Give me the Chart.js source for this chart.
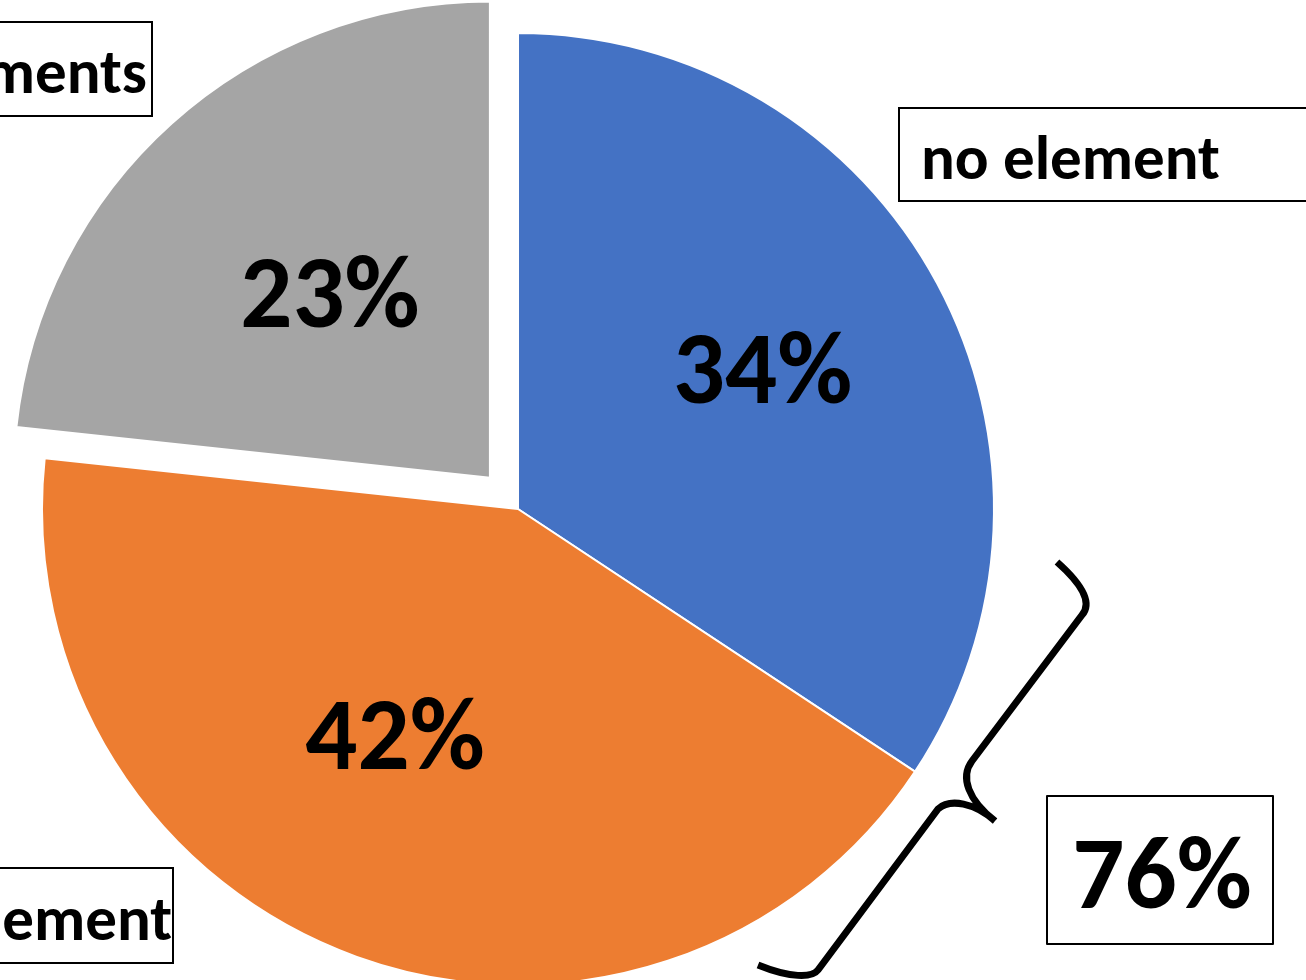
<!DOCTYPE html>
<html>
<head>
<meta charset="utf-8">
<title>Element share</title>
<script src="https://cdn.jsdelivr.net/npm/chart.js@4.4.1/dist/chart.umd.min.js"></script>
<style>
    html, body { margin: 0; padding: 0; background: #fff; overflow: hidden; }
    #wrap { position: relative; width: 1306px; height: 980px; }
</style>
</head>
<body>
<div id="wrap"><canvas id="pie"></canvas></div>
<script>
// data
const categories = ['no element', 'one element', 'two elements'];
const shares = [34.3, 42.4, 23.3];
const grouped = [0, 1]; // slices summed under the brace

// styles
const sliceColors = ['#4472C4', '#ED7D31', '#A5A5A5'];
const sliceOffsets = [0, 0, 42]; // px the slice is pulled out
const FONT = 'Carlito, Lato, "Open Sans", sans-serif';

// % label spot per slice: [fraction of radius, angle shift in deg]
const pctPlace = [[0.594, -1.9], [0.536, 9.0], [0.516, 1.3]];

// category boxes: [x, y, w, h, textX, baseline, align]
const callouts = [
    [899, 108, 440, 93, 921, 179, 'left'],
    [-300, 868, 473, 95, 172, 940, 'right'],
    [-300, 22, 452, 94, 147, 93, 'right']
];

const labelsPlugin = {
    id: 'sliceLabels',
    afterDatasetsDraw(chart) {
        const ctx = chart.ctx;
        const meta = chart.getDatasetMeta(0);
        ctx.save();
        ctx.fillStyle = '#000';
        ctx.textBaseline = 'alphabetic';

        // percentages inside the slices
        ctx.font = `bold 103px ${FONT}`;
        ctx.textAlign = 'center';
        let cx = 0, cy = 0;
        meta.data.forEach((arc, i) => {
            const p = arc.getProps(['x', 'y', 'startAngle', 'endAngle', 'outerRadius'], true);
            cx = p.x; cy = p.y;
            const mid = (p.startAngle + p.endAngle) / 2;
            const off = (arc.options.offset || 0) / 4;
            const a = mid + pctPlace[i][1] * Math.PI / 180;
            const r = p.outerRadius * pctPlace[i][0];
            const x = p.x + Math.cos(mid) * off + Math.cos(a) * r;
            const y = p.y + Math.sin(mid) * off + Math.sin(a) * r;
            ctx.fillText(Math.round(shares[i]) + '%', x, y + 36);
        });

        // category boxes
        ctx.font = `bold 63px ${FONT}`;
        ctx.lineWidth = 2;
        ctx.strokeStyle = '#000';
        callouts.forEach((c, i) => {
            ctx.strokeRect(c[0], c[1], c[2], c[3]);
            ctx.textAlign = c[6];
            ctx.fillText(categories[i], c[4], c[5]);
        });

        // brace round the grouped slices (drawn relative to pie centre)
        ctx.translate(cx - 518, cy - 509);
        ctx.lineWidth = 7;
        ctx.lineCap = 'butt';
        ctx.lineJoin = 'round';
        ctx.beginPath();
        ctx.moveTo(1057, 562);
        ctx.bezierCurveTo(1075, 578, 1095, 600, 1082, 615);
        ctx.lineTo(972, 761);
        ctx.bezierCurveTo(960, 777, 968, 800, 995, 821);
        ctx.moveTo(995, 821);
        ctx.bezierCurveTo(975, 803, 950, 798, 938, 809);
        ctx.lineTo(818, 970);
        ctx.bezierCurveTo(812, 978, 790, 978, 758, 965);
        ctx.stroke();

        // total box
        const total = grouped.reduce((s, i) => s + Math.round(shares[i]), 0);
        ctx.lineWidth = 2;
        ctx.strokeRect(1047, 796, 226, 148);
        ctx.font = `bold 103px ${FONT}`;
        ctx.textAlign = 'center';
        ctx.fillText(total + '%', 1162, 908);
        ctx.restore();
    }
};

new Chart(document.getElementById('pie'), {
    type: 'pie',
    data: {
        labels: categories,
        datasets: [{
            data: shares,
            backgroundColor: sliceColors,
            borderColor: '#FFFFFF',
            borderWidth: 2,
            offset: sliceOffsets.map(o => o * 4), // chart.js moves arcs by offset/4
            radius: 476
        }]
    },
    options: {
        responsive: true,
        maintainAspectRatio: false,
        animation: false,
        events: [],
        layout: { padding: { top: 38, right: 270, bottom: 0, left: 0 } },
        plugins: {
            legend: { display: false },
            tooltip: { enabled: false }
        }
    },
    plugins: [labelsPlugin]
});
</script>
</body>
</html>
